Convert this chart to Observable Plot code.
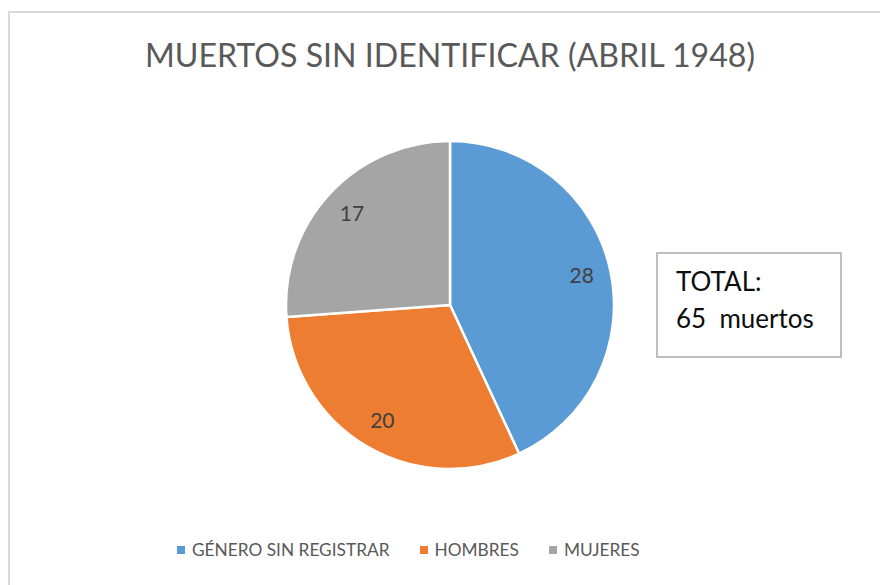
<!DOCTYPE html>
<html><head><meta charset="utf-8">
<script src="https://cdn.jsdelivr.net/npm/d3@7"></script>
<script src="https://cdn.jsdelivr.net/npm/@observablehq/plot@0.6"></script>
<style>
html,body{margin:0;padding:0;background:#fff;}
#chart{position:relative;width:880px;height:585px;overflow:hidden;background:#fff;font-family:Lato,"Open Sans",sans-serif;}
#frame{position:absolute;left:8px;top:11px;width:900px;height:600px;border-left:2px solid #d9d9d9;border-top:2px solid #d9d9d9;}
#plotwrap{position:absolute;left:0;top:0;}
#title{position:absolute;top:38px;left:0;white-space:nowrap;font-size:33px;line-height:33px;color:#595959;}
#totalbox{position:absolute;left:656px;top:252px;width:182px;height:102px;border:2px solid #bfbfbf;box-sizing:content-box;}
#totalbox div{position:absolute;left:18px;white-space:pre;font-size:26px;line-height:26px;color:#0d0d0d;}
#legendwrap{position:absolute;left:177px;top:539px;}
#legendwrap .lg-swatches{margin:0 !important;min-height:0 !important;}
#legendwrap .lg-swatch{margin-right:30px !important;color:#595959;}
#legendwrap .lg-swatch > svg{margin-right:7px !important;}
</style>
</head><body>
<div id="chart">
  <div id="frame"></div>
  <div id="plotwrap"></div>
  <div id="title"></div>
  <div id="totalbox"><div id="t1"></div><div id="t2"></div></div>
  <div id="legendwrap"></div>
</div>
<script>
const titleText = "MUERTOS SIN IDENTIFICAR (ABRIL 1948)";
const categories = ["GÉNERO SIN REGISTRAR", "HOMBRES", "MUJERES"];
const values = [28, 20, 17];
const colors = ["#5B9BD5", "#ED7D31", "#A5A5A5"];
const totalWord = "TOTAL:";
const unitWord = "muertos";

const data = categories.map((c, i) => ({category: c, value: values[i]}));
const total = d3.sum(values);
const arcs = d3.pie().sort(null).value(d => d.value)(data);
const labelR = 0.82;
const labels = arcs.map(a => {
  const m = (a.startAngle + a.endAngle) / 2;
  return {x: labelR * Math.sin(m), y: labelR * Math.cos(m), text: String(a.data.value)};
});
const colorScale = Plot.scale({color: {type: "ordinal", domain: categories, range: colors}});

function pieMark(index, scales, vals, dimensions, context) {
  const cx = scales.x(0), cy = scales.y(0);
  const r = scales.x(1) - scales.x(0);
  const arc = d3.arc().innerRadius(0).outerRadius(r);
  const g = d3.create("svg:g").attr("transform", `translate(${cx},${cy})`);
  g.selectAll("path").data(arcs).join("path")
    .attr("d", arc)
    .attr("fill", d => colorScale.apply(d.data.category))
    .attr("stroke", "#fff").attr("stroke-width", 2.5).attr("stroke-linejoin", "round");
  return g.node();
}

const plot = Plot.plot({
  width: 880, height: 585,
  axis: null,
  x: {domain: [-1, 1], range: [286, 614]},
  y: {domain: [-1, 1], range: [469, 141]},
  style: {background: "transparent", overflow: "visible"},
  marks: [
    pieMark,
    Plot.text(labels, {x: "x", y: "y", text: "text", fill: "#404040", fontSize: 21, fontFamily: "Lato"})
  ]
});
document.getElementById("plotwrap").appendChild(plot);

const legend = Plot.legend({
  color: {type: "ordinal", domain: categories, range: colors},
  className: "lg",
  swatchWidth: 8, swatchHeight: 8,
  style: {fontSize: "17.3px", fontFamily: "Lato", color: "#595959", background: "transparent"}
});
document.getElementById("legendwrap").appendChild(legend);

const t = document.getElementById("title");
t.textContent = titleText;
const tw = t.getBoundingClientRect().width;
const s = 610 / tw;
t.style.transformOrigin = "0 0";
t.style.transform = `scaleX(${s})`;
t.style.left = (450 - 305) + "px";

const t1 = document.getElementById("t1"), t2 = document.getElementById("t2");
t1.textContent = totalWord; t2.textContent = `${total}  ${unitWord}`;
t1.style.top = "14px"; t2.style.top = "51px";
</script>
</body></html>
